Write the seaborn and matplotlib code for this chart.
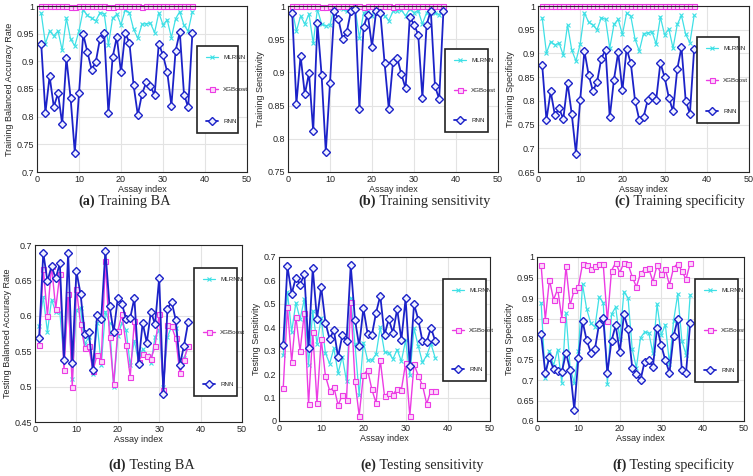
import numpy as np
import pandas as pd
import matplotlib
matplotlib.use("Agg")
import matplotlib.pyplot as plt
from matplotlib.ticker import FuncFormatter
import seaborn as sns

# assay index shared by every panel
assay = list(range(1, 38))

# (a) Training BA
mlrnn_train_ba = [0.987, 0.932, 0.955, 0.946, 0.955, 0.920, 0.978, 0.940, 0.928, 0.955,
                  0.993, 0.983, 0.978, 0.973, 0.988, 0.986, 0.930, 0.978, 0.985, 0.966,
                  0.993, 0.988, 0.958, 0.942, 0.967, 0.968, 0.969, 0.952, 0.988, 0.966,
                  0.975, 0.943, 0.977, 0.990, 0.965, 0.955, 0.990]
xgb_train_ba = [1.0, 1.0, 1.0, 1.0, 1.0, 1.0, 1.0, 0.999, 0.999, 1.0,
                1.0, 1.0, 1.0, 1.0, 1.0, 1.0, 0.999, 0.999, 1.0, 1.0,
                1.0, 1.0, 1.0, 1.0, 0.999, 1.0, 1.0, 1.0, 1.0, 1.0,
                1.0, 1.0, 1.0, 1.0, 1.0, 1.0, 1.0]
rnn_train_ba = [0.932, 0.807, 0.873, 0.818, 0.842, 0.787, 0.906, 0.834, 0.735, 0.842,
                0.949, 0.917, 0.885, 0.899, 0.941, 0.951, 0.806, 0.907, 0.944, 0.880,
                0.951, 0.934, 0.857, 0.803, 0.841, 0.862, 0.855, 0.839, 0.932, 0.911,
                0.881, 0.820, 0.919, 0.953, 0.840, 0.817, 0.951]

# (b) Training sensitivity
mlrnn_train_sen = [0.995, 0.962, 0.985, 0.973, 0.988, 0.944, 0.995, 0.973, 0.970, 0.972,
                   0.997, 0.997, 0.995, 0.992, 0.995, 0.996, 0.952, 0.990, 0.993, 0.985,
                   0.997, 0.993, 0.985, 0.978, 0.992, 0.993, 0.994, 0.985, 0.996, 0.990,
                   0.993, 0.973, 0.990, 0.996, 0.990, 0.987, 0.995]
xgb_train_sen = [1.0, 1.0, 1.0, 1.0, 1.0, 1.0, 1.0, 0.999, 0.999, 1.0,
                 1.0, 1.0, 1.0, 1.0, 1.0, 1.0, 1.0, 0.999, 1.0, 1.0,
                 1.0, 1.0, 1.0, 1.0, 0.999, 1.0, 1.0, 1.0, 1.0, 1.0,
                 1.0, 1.0, 1.0, 1.0, 1.0, 1.0, 1.0]
rnn_train_sen = [0.990, 0.853, 0.925, 0.867, 0.899, 0.811, 0.975, 0.896, 0.780, 0.884,
                 0.992, 0.980, 0.951, 0.961, 0.993, 0.995, 0.845, 0.969, 0.987, 0.939,
                 0.993, 0.989, 0.914, 0.845, 0.916, 0.922, 0.897, 0.876, 0.984, 0.972,
                 0.957, 0.862, 0.972, 0.993, 0.879, 0.860, 0.992]

# (c) Training specificity
mlrnn_train_spe = [0.975, 0.901, 0.925, 0.918, 0.922, 0.896, 0.960, 0.907, 0.884, 0.920,
                   0.985, 0.966, 0.960, 0.950, 0.975, 0.972, 0.911, 0.961, 0.972, 0.940,
                   0.985, 0.978, 0.930, 0.905, 0.942, 0.943, 0.946, 0.920, 0.977, 0.939,
                   0.952, 0.911, 0.961, 0.980, 0.940, 0.923, 0.980]
xgb_train_spe = [1.0, 1.0, 1.0, 1.0, 1.0, 1.0, 1.0, 1.0, 1.0, 1.0,
                 1.0, 1.0, 1.0, 1.0, 1.0, 1.0, 0.999, 1.0, 1.0, 1.0,
                 1.0, 1.0, 1.0, 1.0, 1.0, 1.0, 1.0, 1.0, 1.0, 1.0,
                 1.0, 1.0, 1.0, 1.0, 1.0, 1.0, 1.0]
rnn_train_spe = [0.875, 0.760, 0.820, 0.770, 0.784, 0.762, 0.838, 0.772, 0.689, 0.802,
                 0.905, 0.855, 0.821, 0.840, 0.889, 0.908, 0.765, 0.845, 0.902, 0.822,
                 0.910, 0.879, 0.800, 0.760, 0.765, 0.802, 0.811, 0.802, 0.880, 0.850,
                 0.807, 0.778, 0.867, 0.913, 0.800, 0.773, 0.909]

# (d) Testing BA
mlrnn_test_ba = [0.585, 0.627, 0.577, 0.623, 0.605, 0.605, 0.538, 0.624, 0.511, 0.608,
                 0.611, 0.560, 0.570, 0.518, 0.590, 0.531, 0.606, 0.590, 0.499, 0.572,
                 0.590, 0.580, 0.530, 0.565, 0.535, 0.553, 0.545, 0.533, 0.570, 0.580,
                 0.500, 0.570, 0.585, 0.583, 0.530, 0.540, 0.557]
xgb_test_ba = [0.559, 0.666, 0.600, 0.671, 0.610, 0.659, 0.523, 0.631, 0.500, 0.638,
               0.589, 0.555, 0.557, 0.522, 0.545, 0.536, 0.677, 0.570, 0.504, 0.579,
               0.602, 0.559, 0.514, 0.593, 0.535, 0.546, 0.543, 0.539, 0.557, 0.603,
               0.495, 0.587, 0.585, 0.568, 0.519, 0.538, 0.558]
rnn_test_ba = [0.569, 0.689, 0.649, 0.670, 0.653, 0.674, 0.538, 0.689, 0.533, 0.663,
               0.631, 0.575, 0.577, 0.524, 0.601, 0.596, 0.692, 0.614, 0.577, 0.625,
               0.617, 0.595, 0.597, 0.625, 0.532, 0.590, 0.562, 0.606, 0.588, 0.654,
               0.490, 0.610, 0.620, 0.594, 0.531, 0.558, 0.591]

# (e) Testing sensitivity
mlrnn_test_sen = [0.280, 0.550, 0.380, 0.505, 0.435, 0.520, 0.240, 0.470, 0.330, 0.440,
                  0.290, 0.245, 0.310, 0.205, 0.275, 0.170, 0.525, 0.330, 0.110, 0.335,
                  0.260, 0.260, 0.285, 0.400, 0.295, 0.290, 0.265, 0.305, 0.255, 0.345,
                  0.195, 0.395, 0.320, 0.250, 0.280, 0.330, 0.270]
xgb_test_sen = [0.140, 0.485, 0.253, 0.445, 0.298, 0.463, 0.072, 0.380, 0.078, 0.348,
                0.193, 0.130, 0.145, 0.068, 0.110, 0.090, 0.510, 0.170, 0.023, 0.197,
                0.218, 0.135, 0.077, 0.260, 0.107, 0.120, 0.113, 0.137, 0.133, 0.247,
                0.022, 0.243, 0.193, 0.153, 0.073, 0.130, 0.130]
rnn_test_sen = [0.325, 0.660, 0.543, 0.612, 0.582, 0.627, 0.310, 0.652, 0.435, 0.572,
                0.420, 0.350, 0.388, 0.273, 0.365, 0.340, 0.665, 0.433, 0.320, 0.481,
                0.373, 0.366, 0.462, 0.535, 0.366, 0.435, 0.376, 0.478, 0.346, 0.523,
                0.233, 0.499, 0.433, 0.340, 0.338, 0.398, 0.343]

# (f) Testing specificity
mlrnn_test_spe = [0.889, 0.705, 0.771, 0.735, 0.774, 0.693, 0.863, 0.730, 0.693, 0.770,
                  0.933, 0.873, 0.838, 0.830, 0.902, 0.889, 0.690, 0.860, 0.878, 0.800,
                  0.915, 0.900, 0.775, 0.730, 0.803, 0.817, 0.815, 0.765, 0.885, 0.810,
                  0.835, 0.740, 0.845, 0.910, 0.795, 0.762, 0.908]
xgb_test_spe = [0.980, 0.847, 0.945, 0.896, 0.922, 0.850, 0.977, 0.882, 0.920, 0.928,
                0.983, 0.980, 0.970, 0.977, 0.982, 0.982, 0.843, 0.967, 0.986, 0.962,
                0.986, 0.982, 0.952, 0.927, 0.960, 0.970, 0.972, 0.940, 0.980, 0.958,
                0.970, 0.932, 0.974, 0.984, 0.965, 0.946, 0.985]
rnn_test_spe = [0.811, 0.717, 0.755, 0.726, 0.723, 0.720, 0.766, 0.725, 0.628, 0.753,
                0.843, 0.797, 0.767, 0.776, 0.837, 0.852, 0.718, 0.796, 0.833, 0.768,
                0.860, 0.825, 0.730, 0.715, 0.700, 0.745, 0.748, 0.732, 0.828, 0.785,
                0.748, 0.718, 0.808, 0.849, 0.724, 0.718, 0.838]

CYAN = "#3fe0e6"
MAGENTA = "#ec3ce4"
BLUE = "#1c22c8"

sns.set_style("whitegrid")
plt.rcParams["font.family"] = ["Liberation Sans", "DejaVu Sans"]

W, H = 753, 476
fig = plt.figure(figsize=(W / 100, H / 100), dpi=100)


def draw_panel(rect, mlrnn, xgb, rnn, ylim, ystep, ylabel, leg, caption, cap_xy):
    # rect / leg / caption position given in pixels from the top-left
    l, t, r, b = rect
    ax = fig.add_axes([l / W, (H - b) / H, (r - l) / W, (b - t) / H])

    sns.lineplot(x=assay, y=mlrnn, ax=ax, color=CYAN, marker="x", markersize=3,
                 markeredgecolor=CYAN, markeredgewidth=0.8, linewidth=0.9,
                 label="MLRNN", clip_on=False)
    sns.lineplot(x=assay, y=xgb, ax=ax, color=MAGENTA, marker="s", markersize=3.6,
                 markerfacecolor="#fcd8fa", markeredgecolor=MAGENTA, markeredgewidth=0.8,
                 linewidth=1.0, label="XGBoost", clip_on=False)
    sns.lineplot(x=assay, y=rnn, ax=ax, color=BLUE, marker="D", markersize=4.2,
                 markerfacecolor="#eef0ff", markeredgecolor=BLUE, markeredgewidth=1.0,
                 linewidth=1.3, label="RNN", clip_on=False)

    ax.set_xlim(0, 50)
    ax.set_xticks(np.arange(0, 51, 10))
    ax.set_ylim(*ylim)
    ax.set_yticks(np.arange(ylim[0], ylim[1] + ystep / 2, ystep))
    ax.yaxis.set_major_formatter(FuncFormatter(lambda v, p: f"{round(v, 3):g}"))
    ax.tick_params(labelsize=6.5, length=2, direction="in", pad=2, colors="#262626")
    ax.grid(color="#e3e3e3", linewidth=0.8)
    for sp in ax.spines.values():
        sp.set_color("#262626")
        sp.set_linewidth(0.8)
    ax.set_xlabel("Assay index", fontsize=6.5, labelpad=1, color="#262626")
    ax.set_ylabel(ylabel, fontsize=6.5, labelpad=2, color="#262626")

    # tall boxed legend on the right
    lx0, ly0, lx1, ly1 = leg
    fs = 4.5
    fs_px = fs * 100 / 72
    bp = 1.4
    box_h = ly1 - ly0
    spacing = (box_h - 2 * bp * fs_px - 3 * 1.3 * fs_px) / (2 * fs_px)
    axw, axh = r - l, b - t
    lg = ax.legend(loc="upper left",
                   bbox_to_anchor=((lx0 - l) / axw, (b - ly0) / axh, (lx1 - lx0) / axw, 0.01),
                   mode="expand", fontsize=fs, labelspacing=spacing, borderpad=bp,
                   handlelength=2.0, handletextpad=0.8, fancybox=False, framealpha=1,
                   edgecolor="#222222", borderaxespad=0)
    lg.get_frame().set_linewidth(1.2)
    lg.set_zorder(10)

    # caption below the panel: bold letter then title
    cx, cy = cap_xy
    letter = fig.text(cx / W, (H - cy) / H, caption[0], fontsize=10.3, fontweight="bold",
                      family=["Liberation Serif", "DejaVu Serif"], va="center", ha="left")
    ax.annotate(" " + caption[1], xy=(1, 0.5), xycoords=letter, va="center", ha="left",
                fontsize=10.3, family=["Liberation Serif", "DejaVu Serif"],
                annotation_clip=False)
    return ax


draw_panel((37, 6, 247, 172), mlrnn_train_ba, xgb_train_ba, rnn_train_ba,
           (0.7, 1.0), 0.05, "Training Balanced Accuracy Rate",
           (197, 48, 238, 143), ("(a)", "Training BA"), (78, 201))
draw_panel((288, 6, 498, 172), mlrnn_train_sen, xgb_train_sen, rnn_train_sen,
           (0.75, 1.0), 0.05, "Training Sensitivity",
           (445, 51, 488, 142), ("(b)", "Training sensitivity"), (358, 201))
draw_panel((538, 6, 749, 172), mlrnn_train_spe, xgb_train_spe, rnn_train_spe,
           (0.65, 1.0), 0.05, "Training Specificity",
           (697, 39, 739, 133), ("(c)", "Training specificity"), (614, 201))
draw_panel((35, 245, 242, 422), mlrnn_test_ba, xgb_test_ba, rnn_test_ba,
           (0.45, 0.7), 0.05, "Testing Balanced Accuracy Rate",
           (194, 270, 237, 406), ("(d)", "Testing BA"), (108, 465))
draw_panel((279, 257, 490, 421), mlrnn_test_sen, xgb_test_sen, rnn_test_sen,
           (0.0, 0.7), 0.1, "Testing Sensitivity",
           (443, 281, 486, 391), ("(e)", "Testing sensitivity"), (360, 465))
draw_panel((537, 257, 744, 421), mlrnn_test_spe, xgb_test_spe, rnn_test_spe,
           (0.6, 1.0), 0.05, "Testing Specificity",
           (695, 281, 738, 392), ("(f)", "Testing specificity"), (612, 465))

fig.savefig("out.png", dpi=100)
